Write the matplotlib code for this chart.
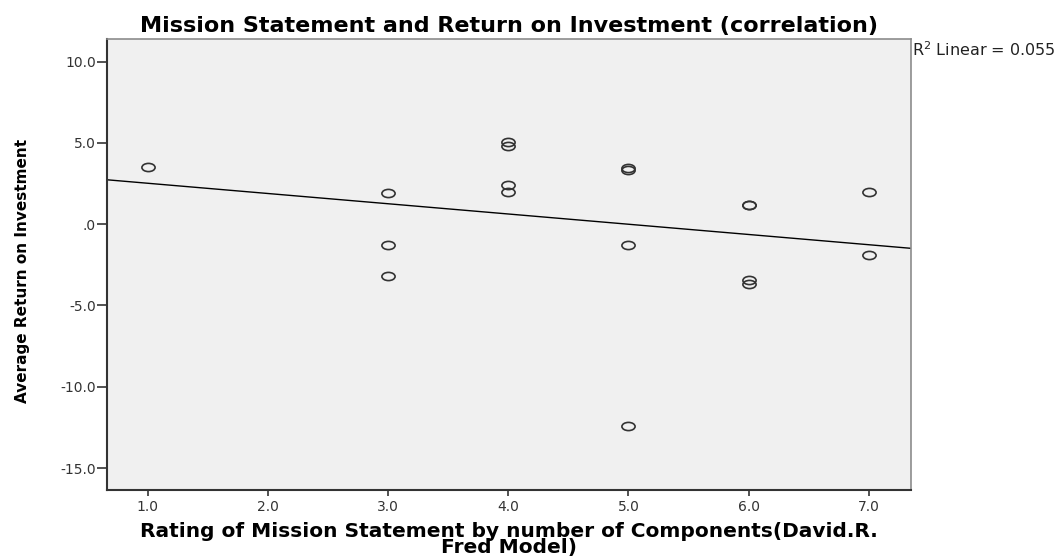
import numpy as np
import matplotlib
matplotlib.use("Agg")
import matplotlib.pyplot as plt
from matplotlib.path import Path
from matplotlib.transforms import Affine2D

# Puntuacion de la declaracion de mision (x) y rendimiento medio (y)
rating = [1, 3, 3, 3, 4, 4, 4, 4, 5, 5, 5, 5, 6, 6, 6, 6, 7, 7]
avg_return = [3.52, 1.92, -1.29, -3.17, 5.03, 4.80, 2.43, 2.00,
              3.45, 3.31, -1.29, -12.43, 1.21, 1.21, -3.42, -3.68,
              2.00, -1.88]
x_ticks = [1.0, 2.0, 3.0, 4.0, 5.0, 6.0, 7.0]
y_ticks = [10.0, 5.0, 0.0, -5.0, -10.0, -15.0]
y_tick_labels = ["10.0", "5.0", ".0", "-5.0", "-10.0", "-15.0"]
r2_text = "R$^2$ Linear = 0.055"

plt.rcParams['font.family'] = ['DejaVu Sans']
plt.rcParams['mathtext.fontset'] = 'dejavusans'

fig = plt.figure(figsize=(10.59, 5.57), dpi=100)
ax = fig.add_axes([0.101, 0.1203, 0.759, 0.8091])
ax.set_facecolor("#F0F0F0")

# marcador eliptico, como los circulos aplanados de SPSS
ellipse = Path.unit_circle().transformed(Affine2D().scale(1.0, 0.62))

ax.plot(rating, avg_return, linestyle="none", marker=ellipse,
        markersize=9.5, markerfacecolor="none", markeredgecolor="#333333",
        markeredgewidth=1.2, zorder=3)

xmin, xmax = 0.66, 7.35
slope, intercept = np.polyfit(rating, avg_return, 1)
xs = np.array([xmin, xmax])
ax.plot(xs, slope * xs + intercept, color="black", linewidth=1.0, zorder=2)

ax.set_xlim(xmin, xmax)
ax.set_ylim(-16.35, 11.37)

ax.set_xticks(x_ticks)
ax.set_xticklabels([f"{t:.1f}" for t in x_ticks])
ax.set_yticks(y_ticks)
ax.set_yticklabels(y_tick_labels)
ax.tick_params(axis="x", length=4, width=1.2, color="#333333",
               labelsize=10, labelcolor="#333333", pad=3)
ax.tick_params(axis="y", length=7, width=1.2, color="#333333",
               labelsize=10, labelcolor="#333333", pad=1)

for side in ["left", "bottom"]:
    ax.spines[side].set_color("#333333")
    ax.spines[side].set_linewidth(1.5)
for side in ["top", "right"]:
    ax.spines[side].set_color("#8C8C8C")
    ax.spines[side].set_linewidth(1.2)

ax.set_title("Mission Statement and Return on Investment (correlation)",
             fontsize=16, fontweight="bold", pad=5)
ax.set_xlabel("Rating of Mission Statement by number of Components(David.R.\nFred Model)",
              fontsize=14.5, fontweight="bold", linespacing=0.8, labelpad=6)
ax.set_ylabel("Average Return on Investment", fontsize=11, fontweight="bold")
ax.yaxis.set_label_coords(-0.096, 0.486)

fig.text(912 / 1059, 1 - 50 / 557, r2_text, fontsize=11.5, color="#222222",
         ha="left", va="center")

fig.savefig("out.png", dpi=100)
